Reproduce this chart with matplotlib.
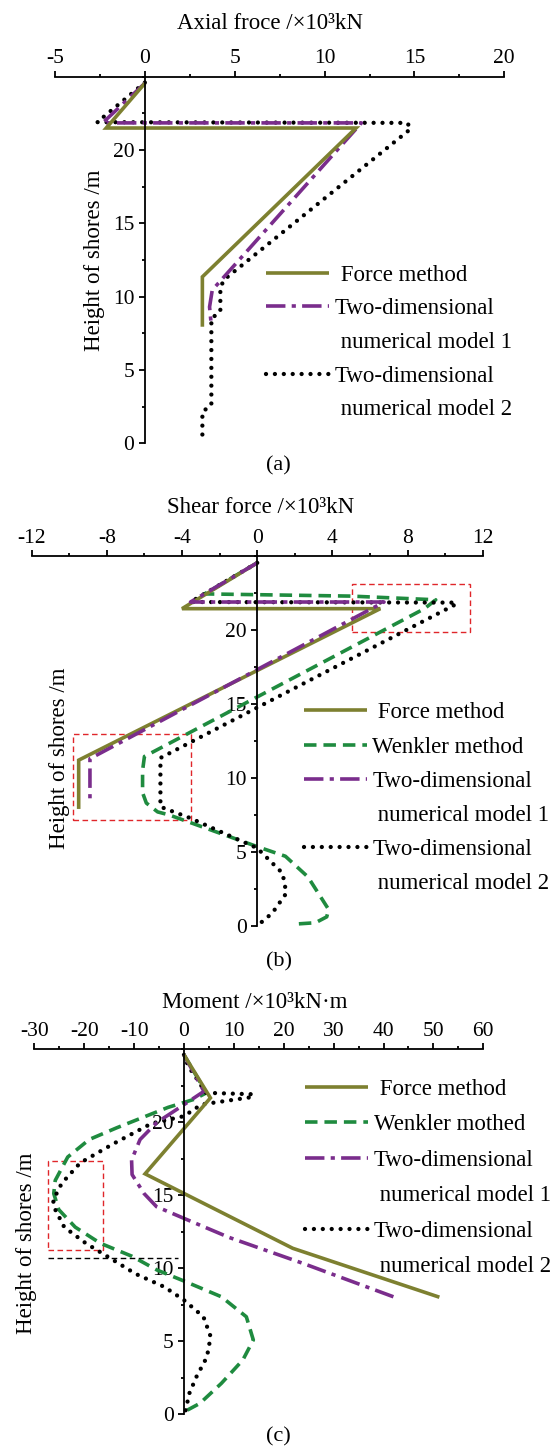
import matplotlib
matplotlib.use("Agg")
import matplotlib.pyplot as plt
from matplotlib.lines import Line2D
from matplotlib.patches import Rectangle
from matplotlib.ticker import MultipleLocator

plt.rcParams['font.family'] = ['Liberation Serif', 'DejaVu Serif']
plt.rcParams['lines.scale_dashes'] = False
plt.rcParams['axes.unicode_minus'] = False

# ---------------- data ----------------
# (a) Axial force /x10^3 kN  vs height /m
a_force_x = [0, -2.15, 11.75, 3.2, 3.2]
a_force_y = [24.55, 21.5, 21.5, 11.35, 7.95]
a_m1_x = [0, -2.35, 12.05, 3.75, 3.6, 3.7]
a_m1_y = [24.55, 21.85, 21.85, 10.45, 9.3, 8.0]
a_m2_x = [0, -2.65, 14.6, 14.8, 4.4, 4.2, 4.2, 3.7, 3.7, 3.2, 3.2]
a_m2_y = [24.6, 21.9, 21.85, 21.45, 11.15, 10.6, 9.0, 8.5, 2.6, 2.15, 0.15]

# (b) Shear force /x10^3 kN
b_force_x = [0, -4.0, 6.55, -9.5, -9.5]
b_force_y = [24.55, 21.45, 21.45, 11.2, 7.9]
b_wink_x = [0, -2.8, 5.0, 9.5, 8.9, -6.0, -6.1, -6.1, -5.9, -5.3, -4.7, 0, 1.5, 2.7, 3.8, 3.7, 3.1, 1.9]
b_wink_y = [24.55, 22.45, 22.3, 22.05, 21.45, 11.45, 10.5, 9.0, 8.3, 7.7, 7.5, 5.35, 4.7, 3.3, 1.1, 0.6, 0.2, 0.1]
b_m1_x = [0, -3.55, 6.75, -8.9, -8.9]
b_m1_y = [24.55, 21.9, 21.9, 11.3, 8.6]
b_m2_x = [0, -3.55, 10.6, 10.5, -5.15, -5.15, -5.15, -4.75, -3.6, 0, 1.35, 1.55, 0.8, 0.1]
b_m2_y = [24.55, 21.9, 21.86, 21.7, 11.35, 10.0, 8.05, 7.85, 7.3, 5.25, 3.55, 2.2, 0.85, 0.1]

# (c) Moment /x10^3 kN.m
c_force_x = [0, 5.3, -7.8, 21.8, 51.2]
c_force_y = [24.6, 21.65, 16.45, 11.35, 8.0]
c_wink_x = [0, 4.5, 2.0, -3.2, -13.5, -19.0, -23.3, -25.8, -26.1, -25.1, -21.8, -16.8,
            -10.4, -5.4, 0.35, 7.5, 12.5, 13.9, 11.8, 7.5, 3.2, 0.7]
c_wink_y = [24.6, 22.0, 21.55, 21.0, 19.6, 18.8, 17.6, 16.0, 15.1, 14.0, 12.8, 11.7,
            10.8, 9.86, 9.06, 8.03, 6.66, 5.07, 3.7, 2.1, 0.73, 0.27]
c_m1_x = [0, 4.0, 0.5, -5.5, -8.8, -10.5, -10.4, -8.0, -5.5, 0, 9.0, 24.0, 43.0]
c_m1_y = [24.6, 22.1, 21.3, 19.95, 18.8, 17.4, 16.4, 15.1, 14.2, 13.4, 12.1, 10.3, 7.9]
c_m2_x = [0, 0.9, 3.2, 4.3, 13.9, 13.5, 3.5, 0, -6.5, -14.2, -20.8, -24.5, -26.2, -26.1,
          -24.0, -19.7, -15.4, -9.7, -3.9, 0, 3.9, 5.35, 4.6, 2.5, 1.06, 0.3]
c_m2_y = [24.6, 23.8, 22.65, 22.0, 21.9, 21.7, 21.2, 20.4, 19.9, 18.5, 17.2, 15.8, 14.66, 14.2,
          12.8, 11.7, 10.8, 9.6, 8.7, 7.8, 6.66, 5.3, 3.9, 2.55, 1.4, 0.2]

# annotation boxes (x0, x1, y0, y1)
b_boxes = [(5.07, 11.35, 19.85, 23.12), (-9.79, -3.54, 7.14, 12.97)]
c_box = (-27.2, -16.3, 11.23, 17.33)
c_hline = (-27.2, -1.1, 10.66)

labels_force = " Force method"
label_wink_b = "Wenkler method"
label_wink_c = "Wenkler mothed"
label_m1 = ["Two-dimensional", " numerical model 1"]
label_m2 = ["Two-dimensional", " numerical model 2"]

# ---------------- styles ----------------
OLIVE = '#7d8030'
GREEN = '#1f8b3f'
PURPLE = '#7a2d8c'
st_force = dict(color=OLIVE, lw=2.6, solid_capstyle='butt', solid_joinstyle='miter')
st_wink = dict(color=GREEN, lw=2.6, dashes=(9, 5), dash_capstyle='butt')
st_m1 = dict(color=PURPLE, lw=2.6, dashes=(14, 4.5, 3, 4.5), dash_capstyle='butt')
st_m2 = dict(color='black', lw=3.1, dashes=(0.01, 6.4), dash_capstyle='round')

W, H = 560, 1448
fig = plt.figure(figsize=(W / 100, H / 100), dpi=100)


def px_axes(x0, x1, ytop, ybot):
    return fig.add_axes([x0 / W, 1 - ybot / H, (x1 - x0) / W, (ybot - ytop) / H])


def style_axes(ax, xlim, xmajor, xminor):
    ax.set_xlim(*xlim)
    ax.set_ylim(0, 25)
    ax.spines['left'].set_position(('data', 0))
    ax.spines['bottom'].set_visible(False)
    ax.spines['right'].set_visible(False)
    for s in ('left', 'top'):
        ax.spines[s].set_linewidth(1.3)
    ax.xaxis.tick_top()
    ax.xaxis.set_major_locator(MultipleLocator(xmajor))
    ax.xaxis.set_minor_locator(MultipleLocator(xminor))
    ax.yaxis.set_major_locator(MultipleLocator(5))
    ax.yaxis.set_minor_locator(MultipleLocator(2.5))
    ax.set_yticks([0, 5, 10, 15, 20])
    ax.tick_params(axis='both', which='major', length=4.5, width=1.3, labelsize=15.5, direction='out')
    ax.tick_params(axis='both', which='minor', length=2.4, width=1.3, direction='out')
    ax.tick_params(axis='x', pad=1.5)
    ax.tick_params(axis='y', pad=3)
    ax.patch.set_alpha(0)


def add_legend(ax, handles, labels, anchor, spacing):
    leg = ax.legend(handles, labels, loc='upper left', bbox_to_anchor=anchor,
                    frameon=False, fontsize=16.5, borderpad=0, borderaxespad=0,
                    handlelength=2.75, handletextpad=0.25, labelspacing=spacing)
    return leg


blank = Line2D([], [], lw=0)
h_force = Line2D([], [], **st_force)
h_wink = Line2D([], [], **st_wink)
h_m1 = Line2D([], [], **st_m1)
h_m2 = Line2D([], [], **st_m2)

# ---------------- (a) ----------------
axa = px_axes(55, 504.3, 76.7, 443.3)
style_axes(axa, (-5, 20), 5, 2.5)
axa.plot(a_m2_x, a_m2_y, **st_m2)
axa.plot(a_m1_x, a_m1_y, **st_m1)
axa.plot(a_force_x, a_force_y, **st_force)
add_legend(axa, [h_force, h_m1, blank, h_m2, blank],
           [labels_force, label_m1[0], label_m1[1], label_m2[0], label_m2[1]],
           (0.4696, 0.4875), 0.55)
fig.text(270 / W, 1 - 29.3 / H, "Axial froce /×10³kN", ha='center', va='baseline', fontsize=16.5)
fig.text(94.6 / W, 1 - 260 / H, "Height of shores /m", ha='center', va='center', rotation=90, fontsize=16.5)
fig.text(278.6 / W, 1 - 470.7 / H, "(a)", ha='center', va='baseline', fontsize=16)

# ---------------- (b) ----------------
axb = px_axes(31.7, 482.7, 556.2, 925.7)
style_axes(axb, (-12, 12), 4, 2)
axb.plot(b_wink_x, b_wink_y, **st_wink)
axb.plot(b_m2_x, b_m2_y, **st_m2)
axb.plot(b_force_x, b_force_y, **st_force)
axb.plot(b_m1_x, b_m1_y, **st_m1)
for (x0, x1, y0, y1) in b_boxes:
    axb.add_patch(Rectangle((x0, y0), x1 - x0, y1 - y0, fill=False, ec='#e0262a', lw=1.0,
                            ls=(0, (4, 2.5))))
add_legend(axb, [h_force, h_wink, h_m1, blank, h_m2, blank],
           [labels_force, label_wink_b, label_m1[0], label_m1[1], label_m2[0], label_m2[1]],
           (0.603, 0.6045), 0.575)
fig.text(261 / W, 1 - 513.3 / H, "Shear force /×10³kN", ha='center', va='baseline', fontsize=16.5)
fig.text(59 / W, 1 - 758 / H, "Height of shores /m", ha='center', va='center', rotation=90, fontsize=16.5)
fig.text(278.6 / W, 1 - 966.7 / H, "(b)", ha='center', va='baseline', fontsize=16)

# ---------------- (c) ----------------
axc = px_axes(34.3, 483.3, 1049, 1414)
style_axes(axc, (-30, 60), 10, 5)
axc.plot(c_wink_x, c_wink_y, **st_wink)
axc.plot(c_m2_x, c_m2_y, **st_m2)
axc.plot(c_m1_x, c_m1_y, **st_m1)
axc.plot(c_force_x, c_force_y, **st_force)
x0, x1, y0, y1 = c_box
axc.add_patch(Rectangle((x0, y0), x1 - x0, y1 - y0, fill=False, ec='#e0262a', lw=1.0,
                        ls=(0, (4, 2.5))))
axc.plot([c_hline[0], c_hline[1]], [c_hline[2], c_hline[2]], color='black', lw=1.0,
         ls=(0, (4, 2.5)))
add_legend(axc, [h_force, h_wink, h_m1, blank, h_m2, blank],
           [labels_force, label_wink_c, label_m1[0], label_m1[1], label_m2[0], label_m2[1]],
           (0.603, 0.9185), 0.63)
fig.text(254.6 / W, 1 - 1008.3 / H, "Moment /×10³kN·m", ha='center', va='baseline', fontsize=16.5)
fig.text(27 / W, 1 - 1243 / H, "Height of shores /m", ha='center', va='center', rotation=90, fontsize=16.5)
fig.text(278.6 / W, 1 - 1441.7 / H, "(c)", ha='center', va='baseline', fontsize=16)

fig.savefig("out.png", dpi=100)
